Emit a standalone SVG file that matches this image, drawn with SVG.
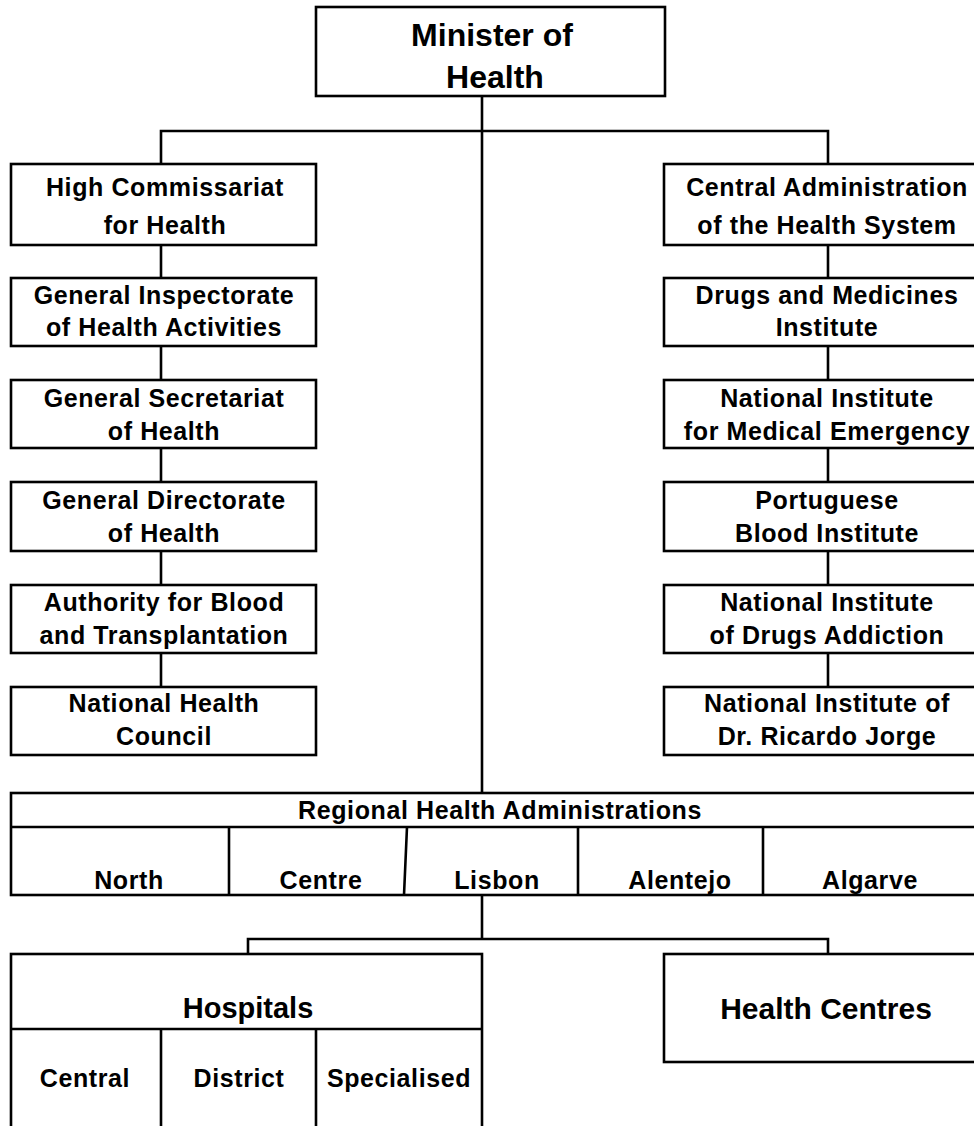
<svg xmlns="http://www.w3.org/2000/svg" width="974" height="1126" viewBox="0 0 974 1126">
<style>
.box{fill:#fff;stroke:#000;stroke-width:2.6}
.ln{fill:none;stroke:#000;stroke-width:2.6}
text{font-family:"Liberation Sans",Arial,sans-serif;font-weight:bold;fill:#000;text-anchor:middle}
.s{font-size:25px;letter-spacing:0.6px}
.m{font-size:29px}
.l{font-size:32px}
</style>
<rect width="974" height="1126" fill="#fff"/>
<g id="connectors">
<path class="ln" d="M482,96 V793 M161,164 V131 H828 V164"/>
<path class="ln" d="M161,245 V278 M161,346 V380 M161,448 V482 M161,551 V585 M161,653 V687"/>
<path class="ln" d="M828,245 V278 M828,346 V380 M828,448 V482 M828,551 V585 M828,653 V687"/>
<path class="ln" d="M482,895 V939 M248,954 V939 H828 V954"/>
</g>
<g id="minister">
<rect class="box" x="316" y="7" width="349" height="89"/>
<text class="l" x="492" y="46">Minister of</text>
<text class="l" x="495" y="88">Health</text>
</g>
<g id="high-commissariat">
<rect class="box" x="11" y="164" width="305" height="81"/>
<text class="s" x="165" y="196">High Commissariat</text>
<text class="s" x="165" y="234">for Health</text>
</g>
<g id="general-inspectorate">
<rect class="box" x="11" y="278" width="305" height="68"/>
<text class="s" x="164" y="304">General Inspectorate</text>
<text class="s" x="164" y="336">of Health Activities</text>
</g>
<g id="general-secretariat">
<rect class="box" x="11" y="380" width="305" height="68"/>
<text class="s" x="164" y="407">General Secretariat</text>
<text class="s" x="164" y="440">of Health</text>
</g>
<g id="general-directorate">
<rect class="box" x="11" y="482" width="305" height="69"/>
<text class="s" x="164" y="509">General Directorate</text>
<text class="s" x="164" y="542">of Health</text>
</g>
<g id="authority-blood">
<rect class="box" x="11" y="585" width="305" height="68"/>
<text class="s" x="164" y="611">Authority for Blood</text>
<text class="s" x="164" y="644">and Transplantation</text>
</g>
<g id="national-health-council">
<rect class="box" x="11" y="687" width="305" height="68"/>
<text class="s" x="164" y="712">National Health</text>
<text class="s" x="164" y="745">Council</text>
</g>
<g id="central-administration">
<rect class="box" x="664" y="164" width="330" height="81"/>
<text class="s" x="827" y="196">Central Administration</text>
<text class="s" x="827" y="234">of the Health System</text>
</g>
<g id="drugs-medicines">
<rect class="box" x="664" y="278" width="330" height="68"/>
<text class="s" x="827" y="304">Drugs and Medicines</text>
<text class="s" x="827" y="336">Institute</text>
</g>
<g id="medical-emergency">
<rect class="box" x="664" y="380" width="330" height="68"/>
<text class="s" x="827" y="407">National Institute</text>
<text class="s" x="827" y="440">for Medical Emergency</text>
</g>
<g id="blood-institute">
<rect class="box" x="664" y="482" width="330" height="69"/>
<text class="s" x="827" y="509">Portuguese</text>
<text class="s" x="827" y="542">Blood Institute</text>
</g>
<g id="drugs-addiction">
<rect class="box" x="664" y="585" width="330" height="68"/>
<text class="s" x="827" y="611">National Institute</text>
<text class="s" x="827" y="644">of Drugs Addiction</text>
</g>
<g id="ricardo-jorge">
<rect class="box" x="664" y="687" width="330" height="68"/>
<text class="s" x="827" y="712">National Institute of</text>
<text class="s" x="827" y="745">Dr. Ricardo Jorge</text>
</g>
<g id="regional-health">
<rect class="box" x="11" y="793" width="990" height="102"/>
<path class="ln" d="M11,827 H1001 M229,827 V895 M407,827 L404,895 M578,827 V895 M763,827 V895"/>
<text class="s" x="500" y="819">Regional Health Administrations</text>
<text class="s" x="129" y="889">North</text>
<text class="s" x="321" y="889">Centre</text>
<text class="s" x="497" y="889">Lisbon</text>
<text class="s" x="680" y="889">Alentejo</text>
<text class="s" x="870" y="889">Algarve</text>
</g>
<g id="hospitals">
<rect class="box" x="11" y="954" width="471" height="200"/>
<path class="ln" d="M11,1029 H482 M161,1029 V1154 M316,1029 V1154"/>
<text class="m" x="248" y="1018">Hospitals</text>
<text class="s" x="85" y="1087">Central</text>
<text class="s" x="239" y="1087">District</text>
<text class="s" x="399" y="1087">Specialised</text>
</g>
<g id="health-centres">
<rect class="box" x="664" y="954" width="330" height="108"/>
<text class="m" x="826" y="1019" style="font-size:30px">Health Centres</text>
</g>
</svg>
